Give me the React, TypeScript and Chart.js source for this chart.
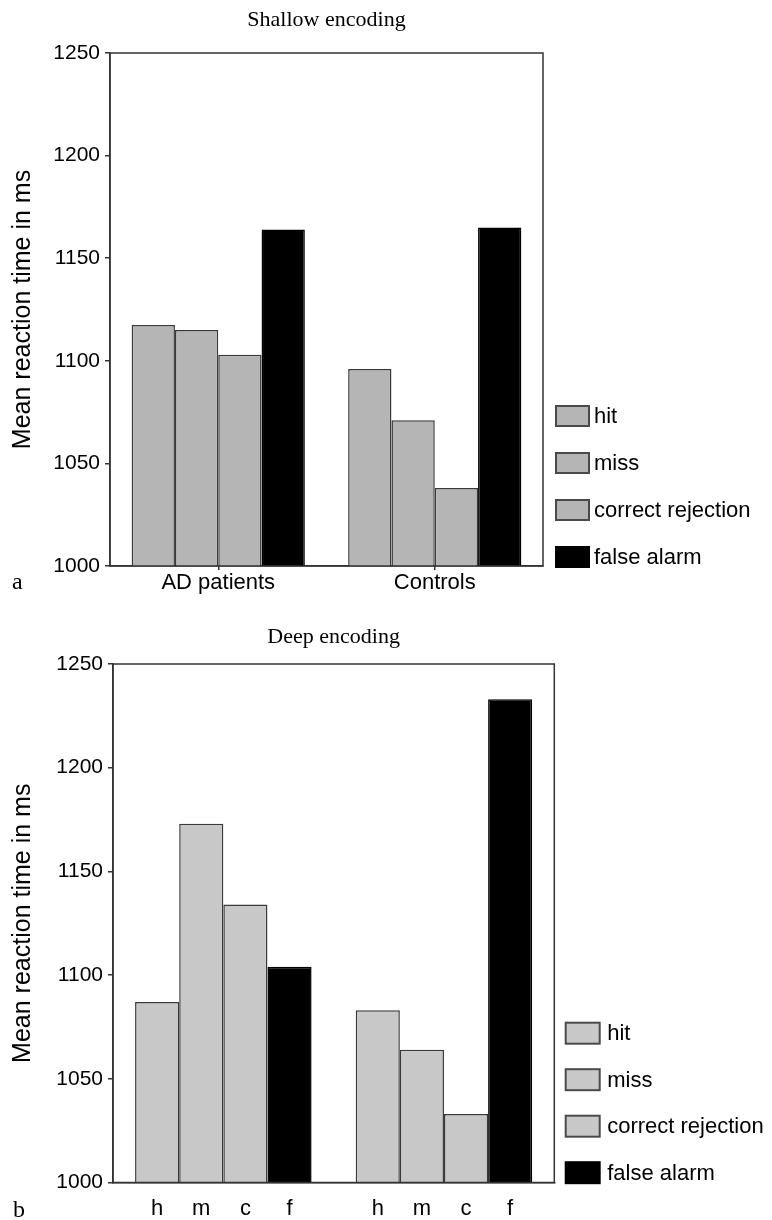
import React, { useEffect, useRef } from 'react';
import { Chart, registerables } from 'chart.js';

Chart.register(...registerables);

// ---- data ----
const groups = ['AD patients', 'Controls'];
const responseTypes = ['hit', 'miss', 'correct rejection', 'false alarm'];
const responseLetters = ['h', 'm', 'c', 'f'];
const yTickValues = [1000, 1050, 1100, 1150, 1200, 1250];

const shallowHit = [1117.5, 1096];
const shallowMiss = [1115, 1071];
const shallowCorrectRejection = [1103, 1038];
const shallowFalseAlarm = [1164, 1165];

const deepHit = [1087, 1083];
const deepMiss = [1173, 1064];
const deepCorrectRejection = [1134, 1033];
const deepFalseAlarm = [1104, 1233];

const SANS = '"Liberation Sans", Arial, Helvetica, sans-serif';
const SERIF = '"Liberation Serif", "Times New Roman", Times, serif';

const extrasPlugin = {
  id: 'extras',
  afterDatasetsDraw(chart: any, _args: any, opts: any) {
    const { ctx, chartArea: a } = chart;
    ctx.save();
    // frame around plot
    ctx.strokeStyle = opts.frameColor;
    ctx.lineWidth = opts.frameWidth;
    ctx.strokeRect(a.left, a.top, a.right - a.left, a.bottom - a.top);

    // legend
    const L = opts.legend;
    ctx.font = `${L.fontSize}px ${SANS}`;
    ctx.textBaseline = 'middle';
    ctx.textAlign = 'left';
    const n = chart.data.datasets.length;
    chart.data.datasets.forEach((ds: any, i: number) => {
      const cy = a.bottom - L.bottomOffset - (n - 1 - i) * L.rowGap;
      const x = a.right + L.gapFromPlot;
      ctx.fillStyle = ds.backgroundColor;
      ctx.fillRect(x, cy - L.boxH / 2, L.boxW, L.boxH);
      ctx.strokeStyle = ds.legendBorder;
      ctx.lineWidth = L.boxBorder;
      ctx.strokeRect(x, cy - L.boxH / 2, L.boxW, L.boxH);
      ctx.fillStyle = '#000';
      ctx.fillText(ds.label, x + L.boxW + L.textGap, cy + 1);
    });

    // letters under each bar
    if (opts.barLetters) {
      ctx.font = `${opts.barLetterSize}px ${SANS}`;
      ctx.textAlign = 'center';
      ctx.textBaseline = 'alphabetic';
      chart.data.datasets.forEach((_ds: any, i: number) => {
        const meta = chart.getDatasetMeta(i);
        meta.data.forEach((el: any) => {
          ctx.fillText(opts.barLetters[i], el.x, a.bottom + opts.barLetterDy);
        });
      });
    }

    // panel letter
    ctx.font = `24px ${SERIF}`;
    ctx.textAlign = 'left';
    ctx.textBaseline = 'alphabetic';
    ctx.fillStyle = '#000';
    ctx.fillText(opts.panelLetter, opts.panelX, a.bottom + opts.panelDy);
    ctx.restore();
  },
};

function makeDatasets(values: number[][], gray: string) {
  return responseTypes.map((label, i) => {
    const isFA = i === 3;
    return {
      label,
      data: values[i],
      backgroundColor: isFA ? '#000000' : gray,
      borderColor: isFA ? '#000000' : '#3a3a3a',
      legendBorder: isFA ? '#000000' : '#4a4a4a',
      borderWidth: 1.5,
      borderSkipped: 'bottom',
      categoryPercentage: 0.8,
      barPercentage: 1.0,
    };
  });
}

function makeOptions(cfg: any) {
  return {
    responsive: false,
    animation: false,
    devicePixelRatio: 1,
    layout: { padding: cfg.padding },
    plugins: {
      legend: { display: false },
      tooltip: { enabled: false },
      title: {
        display: true,
        text: cfg.title,
        fullSize: false,
        color: '#000',
        font: { family: SERIF, size: 22, weight: 'normal' },
        padding: cfg.titlePadding,
      },
      extras: cfg.extras,
    },
    scales: {
      x: {
        type: 'category',
        grid: {
          display: cfg.xTicks,
          drawOnChartArea: false,
          offset: false,
          tickLength: 4,
          color: '#333',
          lineWidth: 1.5,
        },
        border: { display: true, color: '#333', width: 1.5 },
        ticks: { display: cfg.xTicks, color: '#000', padding: 0, font: { family: SANS, size: 22 } },
        afterFit: (s: any) => {
          s.height = cfg.xHeight;
        },
      },
      y: {
        type: 'linear',
        min: yTickValues[0],
        max: yTickValues[yTickValues.length - 1],
        afterBuildTicks: (s: any) => {
          s.ticks = yTickValues.map((v) => ({ value: v }));
        },
        grid: { drawOnChartArea: false, tickLength: 5, color: '#333', lineWidth: 1.5 },
        border: { display: true, color: '#333', width: 1.5 },
        ticks: {
          color: '#000',
          padding: 5,
          font: { family: SANS, size: 21 },
          callback: (v: any) => String(v),
        },
        title: {
          display: true,
          text: 'Mean reaction time in ms',
          color: '#000',
          font: { family: SANS, size: 25 },
          padding: { top: 8, bottom: 0 },
        },
        afterFit: (s: any) => {
          s.width = cfg.yWidth;
        },
      },
    },
  };
}

export default function App() {
  const topRef = useRef<HTMLCanvasElement | null>(null);
  const bottomRef = useRef<HTMLCanvasElement | null>(null);

  useEffect(() => {
    const top = new Chart(topRef.current as HTMLCanvasElement, {
      type: 'bar',
      data: {
        labels: groups,
        datasets: makeDatasets(
          [shallowHit, shallowMiss, shallowCorrectRejection, shallowFalseAlarm],
          '#b5b5b5'
        ) as any,
      },
      options: makeOptions({
        title: 'Shallow encoding',
        padding: { left: 0, right: 229, top: 0.6, bottom: 0 },
        titlePadding: { top: 6, bottom: 20 },
        xTicks: true,
        xHeight: 34,
        yWidth: 110,
        extras: {
          frameColor: '#333',
          frameWidth: 1.5,
          legend: { fontSize: 22, gapFromPlot: 13, boxW: 33, boxH: 20, textGap: 5, rowGap: 47, bottomOffset: 9, boxBorder: 2 },
          barLetters: null,
          panelLetter: 'a',
          panelX: 12,
          panelDy: 23,
        },
      }) as any,
      plugins: [extrasPlugin],
    });

    const bottom = new Chart(bottomRef.current as HTMLCanvasElement, {
      type: 'bar',
      data: {
        labels: groups,
        datasets: makeDatasets(
          [deepHit, deepMiss, deepCorrectRejection, deepFalseAlarm],
          '#c8c8c8'
        ) as any,
      },
      options: makeOptions({
        title: 'Deep encoding',
        padding: { left: 0, right: 217.7, top: 0, bottom: 0 },
        titlePadding: { top: 13.6, bottom: 14 },
        xTicks: false,
        xHeight: 37.5,
        yWidth: 113,
        extras: {
          frameColor: '#333',
          frameWidth: 1.5,
          legend: { fontSize: 22, gapFromPlot: 11.4, boxW: 34, boxH: 21, textGap: 7.5, rowGap: 46.5, bottomOffset: 9.8, boxBorder: 2 },
          barLetters: responseLetters,
          barLetterSize: 22,
          barLetterDy: 32.5,
          panelLetter: 'b',
          panelX: 13,
          panelDy: 34,
        },
      }) as any,
      plugins: [extrasPlugin],
    });

    return () => {
      top.destroy();
      bottom.destroy();
    };
  }, []);

  return (
    <div style={{ position: 'absolute', left: 0, top: 0, width: 772, height: 1220, background: '#fff' }}>
      <canvas
        ref={topRef}
        width={772}
        height={600}
        style={{ position: 'absolute', left: 0, top: 0, width: 772, height: 600, display: 'block' }}
      />
      <canvas
        ref={bottomRef}
        width={772}
        height={610}
        style={{ position: 'absolute', left: 0, top: 610, width: 772, height: 610, display: 'block' }}
      />
    </div>
  );
}
